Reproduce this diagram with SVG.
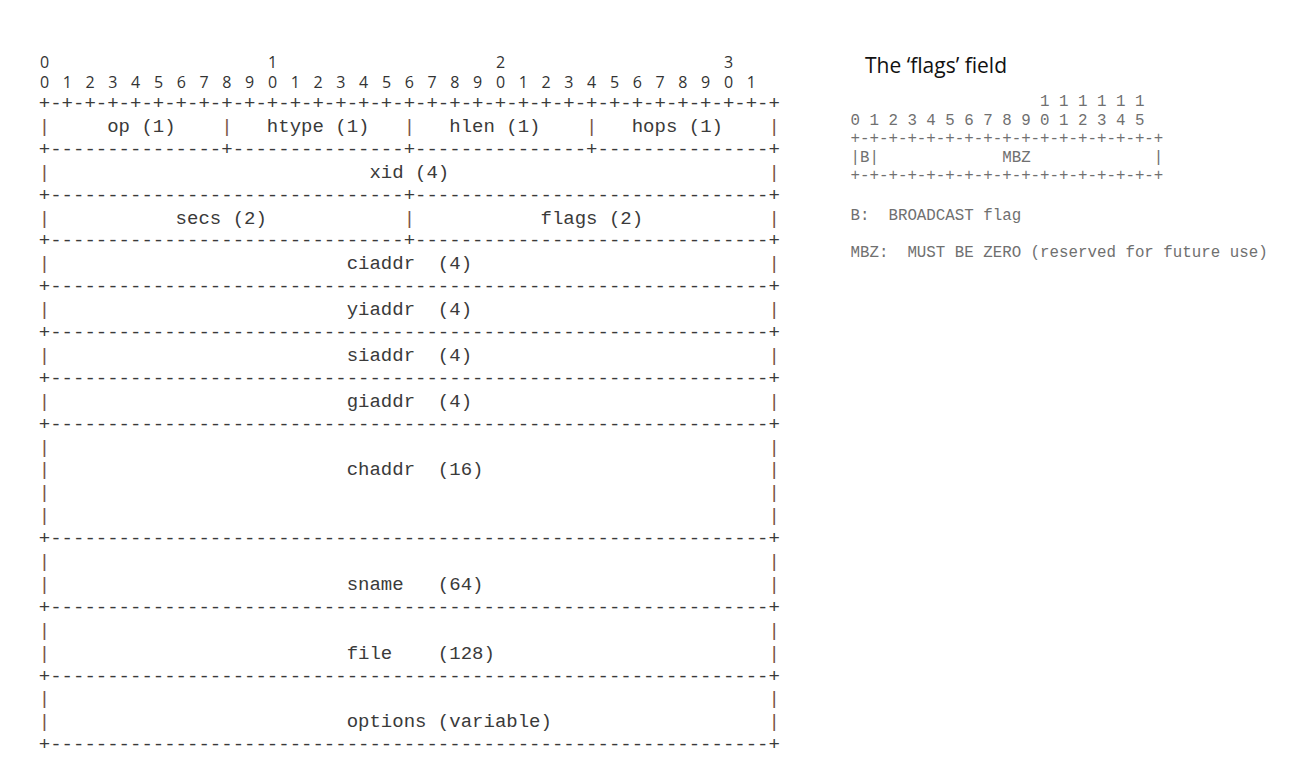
<svg xmlns="http://www.w3.org/2000/svg" width="1302" height="778" viewBox="0 0 1302 778">
<style>
  .m { font-family: "Liberation Mono", "Courier New", monospace; font-size: 19px; fill: #3a3a3a; white-space: pre; }
  .p { fill: #7a5646; }
  .d { font-family: "Open Sans", "Noto Sans", "DejaVu Sans", sans-serif; font-size: 16px; fill: #333; text-anchor: middle; }
  .s { font-family: "Liberation Mono", "Courier New", monospace; font-size: 15.8px; fill: #707070; white-space: pre; }
  .t { font-family: "Open Sans", "Noto Sans", "DejaVu Sans", sans-serif; font-size: 21px; fill: #111; }
</style>
<rect width="1302" height="778" fill="#ffffff"/>
<g id="bit-ruler">
  <text class="d" x="44.5 272.5 500.5 728.5" y="67.5">0123</text>
  <text class="d" x="44.5 67.3 90.1 112.9 135.7 158.5 181.3 204.1 226.9 249.7 272.5 295.3 318.1 340.9 363.7 386.5 409.3 432.1 454.9 477.7 500.5 523.3 546.1 568.9 591.7 614.5 637.3 660.1 682.9 705.7 728.5 751.3" y="88">01234567890123456789012345678901</text>
</g>
<g id="dhcp-message" xml:space="preserve">
  <text class="m" x="38.8" y="109">+-+-+-+-+-+-+-+-+-+-+-+-+-+-+-+-+-+-+-+-+-+-+-+-+-+-+-+-+-+-+-+-+</text>
  <g id="field-op-htype-hlen-hops"><text class="m" x="38.8" y="131.9"><tspan class="p">|</tspan>     op (1)    <tspan class="p">|</tspan>   htype (1)   <tspan class="p">|</tspan>   hlen (1)    <tspan class="p">|</tspan>   hops (1)    <tspan class="p">|</tspan></text></g>
  <text class="m" x="38.8" y="154.8">+---------------+---------------+---------------+---------------+</text>
  <g id="field-xid"><text class="m" x="38.8" y="177.7"><tspan class="p">|</tspan>                            xid (4)                            <tspan class="p">|</tspan></text></g>
  <text class="m" x="38.8" y="200.6">+-------------------------------+-------------------------------+</text>
  <g id="field-secs-flags"><text class="m" x="38.8" y="223.5"><tspan class="p">|</tspan>           secs (2)            <tspan class="p">|</tspan>           flags (2)           <tspan class="p">|</tspan></text></g>
  <text class="m" x="38.8" y="246.4">+-------------------------------+-------------------------------+</text>
  <g id="field-ciaddr"><text class="m" x="38.8" y="269.3"><tspan class="p">|</tspan>                          ciaddr  (4)                          <tspan class="p">|</tspan></text></g>
  <text class="m" x="38.8" y="292.2">+---------------------------------------------------------------+</text>
  <g id="field-yiaddr"><text class="m" x="38.8" y="315.1"><tspan class="p">|</tspan>                          yiaddr  (4)                          <tspan class="p">|</tspan></text></g>
  <text class="m" x="38.8" y="338">+---------------------------------------------------------------+</text>
  <g id="field-siaddr"><text class="m" x="38.8" y="360.9"><tspan class="p">|</tspan>                          siaddr  (4)                          <tspan class="p">|</tspan></text></g>
  <text class="m" x="38.8" y="383.8">+---------------------------------------------------------------+</text>
  <g id="field-giaddr"><text class="m" x="38.8" y="406.7"><tspan class="p">|</tspan>                          giaddr  (4)                          <tspan class="p">|</tspan></text></g>
  <text class="m" x="38.8" y="429.6">+---------------------------------------------------------------+</text>
  <g id="field-chaddr">
    <text class="m" x="38.8" y="452.5"><tspan class="p">|</tspan>                                                               <tspan class="p">|</tspan></text>
    <text class="m" x="38.8" y="475.4"><tspan class="p">|</tspan>                          chaddr  (16)                         <tspan class="p">|</tspan></text>
    <text class="m" x="38.8" y="498.3"><tspan class="p">|</tspan>                                                               <tspan class="p">|</tspan></text>
    <text class="m" x="38.8" y="521.2"><tspan class="p">|</tspan>                                                               <tspan class="p">|</tspan></text>
  </g>
  <text class="m" x="38.8" y="544.1">+---------------------------------------------------------------+</text>
  <g id="field-sname">
    <text class="m" x="38.8" y="567"><tspan class="p">|</tspan>                                                               <tspan class="p">|</tspan></text>
    <text class="m" x="38.8" y="589.9"><tspan class="p">|</tspan>                          sname   (64)                         <tspan class="p">|</tspan></text>
  </g>
  <text class="m" x="38.8" y="612.8">+---------------------------------------------------------------+</text>
  <g id="field-file">
    <text class="m" x="38.8" y="635.7"><tspan class="p">|</tspan>                                                               <tspan class="p">|</tspan></text>
    <text class="m" x="38.8" y="658.6"><tspan class="p">|</tspan>                          file    (128)                        <tspan class="p">|</tspan></text>
  </g>
  <text class="m" x="38.8" y="681.5">+---------------------------------------------------------------+</text>
  <g id="field-options">
    <text class="m" x="38.8" y="704.4"><tspan class="p">|</tspan>                                                               <tspan class="p">|</tspan></text>
    <text class="m" x="38.8" y="727.3"><tspan class="p">|</tspan>                          options (variable)                   <tspan class="p">|</tspan></text>
  </g>
  <text class="m" x="38.8" y="750.2">+---------------------------------------------------------------+</text>
</g>
<g id="flags-title">
  <text class="t" x="865" y="73">The ‘flags’ field</text>
</g>
<g id="flags-field" xml:space="preserve">
  <text class="s" x="850.5" y="106">                    1 1 1 1 1 1</text>
  <text class="s" x="850.5" y="124.5">0 1 2 3 4 5 6 7 8 9 0 1 2 3 4 5</text>
  <text class="s" x="850.5" y="143">+-+-+-+-+-+-+-+-+-+-+-+-+-+-+-+-+</text>
  <text class="s" x="850.5" y="161.5">|B|             MBZ             |</text>
  <text class="s" x="850.5" y="180">+-+-+-+-+-+-+-+-+-+-+-+-+-+-+-+-+</text>
</g>
<g id="flags-legend" xml:space="preserve">
  <text class="s" x="850.5" y="219.5">B:  BROADCAST flag</text>
  <text class="s" x="850.5" y="257">MBZ:  MUST BE ZERO (reserved for future use)</text>
</g>
</svg>
